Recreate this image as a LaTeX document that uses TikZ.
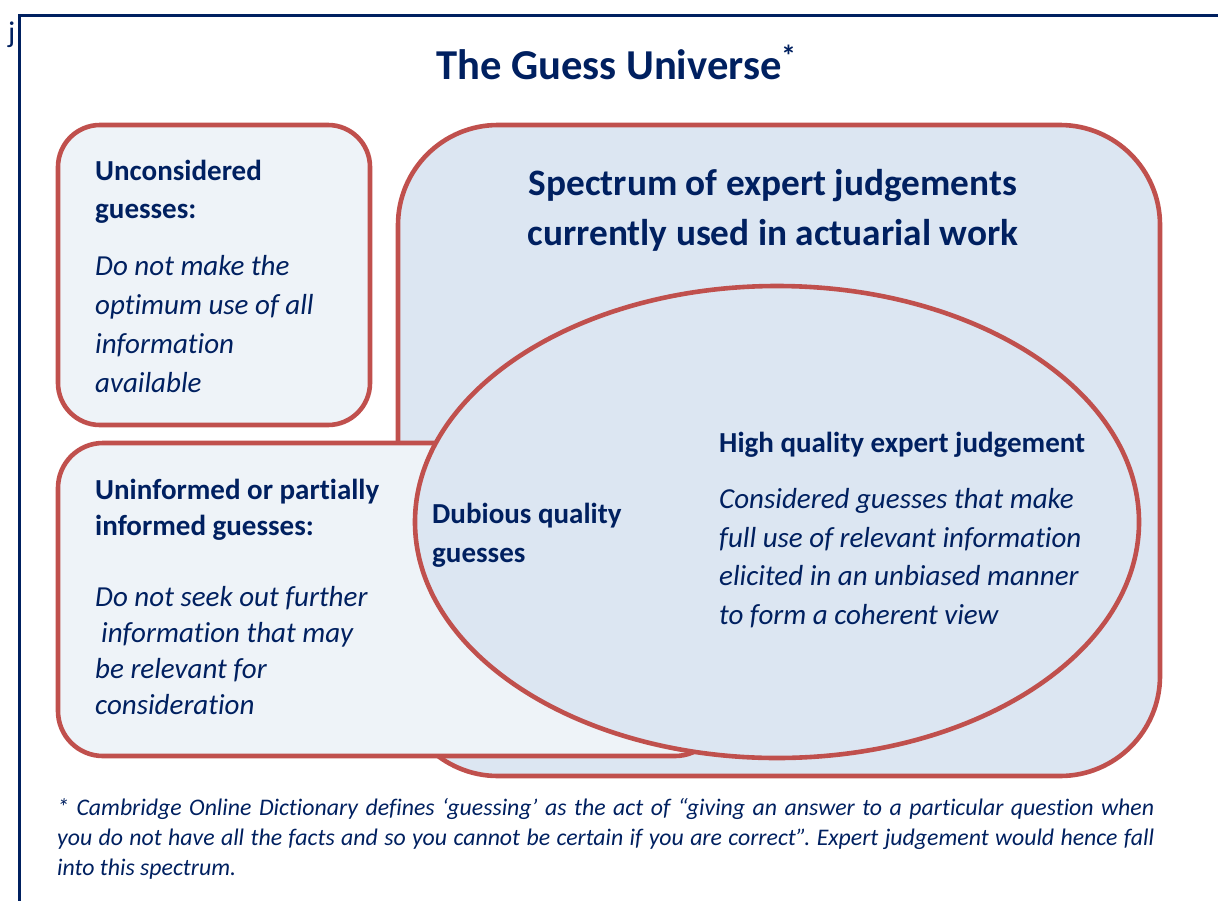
\documentclass[tikz,border=0pt]{standalone}
\usepackage{fontspec}
\setmainfont{Carlito}[Ligatures={NoCommon}]
\frenchspacing
\definecolor{navy}{HTML}{002060}
\definecolor{edgered}{HTML}{C0504D}
\definecolor{spectrumfill}{HTML}{DCE6F2}
\definecolor{boxfill}{HTML}{EEF3F8}
\tikzset{
  region/.style={draw=edgered, line width=4.6pt},
  txt/.style={anchor=base west, inner sep=0pt, text=navy},
  headtxt/.style={txt, font=\fontsize{29}{35}\selectfont\bfseries},
  bodytxt/.style={txt, font=\fontsize{29}{35}\selectfont\itshape},
  notetxt/.style={txt, font=\fontsize{23.8}{30}\selectfont\itshape},
}
\begin{document}
\begin{tikzpicture}[x=1pt, y=-1pt]
\useasboundingbox (0,0) rectangle (1218,900);

% page frame (top and left edges)
\draw[navy, line width=3.8pt] (1230,15.5) -- (19.5,15.5) -- (19.5,910);
\node[txt, font=\fontsize{30}{34}\selectfont] (jchar) at (8,42) {j};

% title
\node[txt, font=\fontsize{42.6}{50}\selectfont\bfseries] (title) at (436,79) {The Guess Universe};
\node[txt, font=\fontsize{30}{36}\selectfont\bfseries] (titlestar) at (781,66) {*};

% regions, back to front
\path[region, fill=spectrumfill, rounded corners=100pt] (398,125) rectangle (1160,776);
\path[region, fill=boxfill, rounded corners=42pt] (58,125) rectangle (370,425);
\path[region, fill=boxfill, rounded corners=45pt] (58,443) rectangle (720,756);
\path[region, fill=spectrumfill] (777,522) ellipse [x radius=362pt, y radius=236pt];

% spectrum heading
\node[anchor=base, inner sep=0pt, text=navy, font=\fontsize{37.3}{45}\selectfont\bfseries] (spec1) at (773,195) {Spectrum of expert judgements};
\node[anchor=base, inner sep=0pt, text=navy, font=\fontsize{37.3}{45}\selectfont\bfseries] (spec2) at (773,245) {currently used in actuarial work};

% unconsidered guesses
\node[headtxt] (uc1) at (95,180) {Unconsidered};
\node[headtxt] (uc2) at (95,218) {guesses:};
\node[bodytxt] (uc3) at (95,275) {Do not make the};
\node[bodytxt] (uc4) at (95,314) {optimum use of all};
\node[bodytxt] (uc5) at (95,353) {information};
\node[bodytxt] (uc6) at (95,392) {available};

% uninformed guesses
\node[headtxt] (ui1) at (95,499) {Uninformed or partially};
\node[headtxt] (ui2) at (95,535) {informed guesses:};
\node[bodytxt] (ui3) at (95,606) {Do not seek out further};
\node[bodytxt] (ui4) at (101,642) {information that may};
\node[bodytxt] (ui5) at (95,678) {be relevant for};
\node[bodytxt] (ui6) at (95,714) {consideration};

% dubious quality
\node[headtxt] (dq1) at (432,523) {Dubious quality};
\node[headtxt] (dq2) at (432,562) {guesses};

% high quality
\node[headtxt] (hq1) at (719,452) {High quality expert judgement};
\node[bodytxt] (hq2) at (719,508) {Considered guesses that make};
\node[bodytxt] (hq3) at (719,547) {full use of relevant information};
\node[bodytxt] (hq4) at (719,585) {elicited in an unbiased manner};
\node[bodytxt] (hq5) at (719,624) {to form a coherent view};

% footnote
\node[notetxt] (fn1) at (57,815) {\makebox[1097pt][s]{* Cambridge Online Dictionary defines ‘guessing’ as the act of “giving an answer to a particular question when}};
\node[notetxt] (fn2) at (57,845) {\makebox[1097pt][s]{you do not have all the facts and so you cannot be certain if you are correct”. Expert judgement would hence fall}};
\node[notetxt] (fn3) at (57,875) {into this spectrum.};
\end{tikzpicture}
\end{document}
